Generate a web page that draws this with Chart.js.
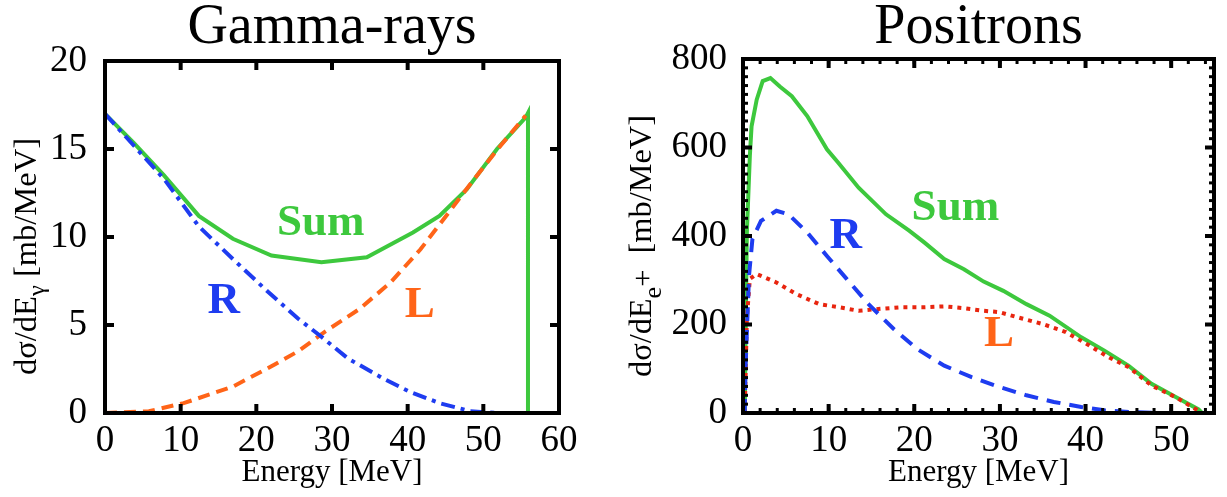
<!DOCTYPE html>
<html>
<head>
<meta charset="utf-8">
<script src="https://cdn.jsdelivr.net/npm/chart.js@4/dist/chart.umd.min.js"></script>
<style>
  html, body { margin: 0; padding: 0; background: #fff; }
  body { width: 1227px; height: 497px; position: relative; overflow: hidden; }
  .box { position: absolute; top: 0; height: 497px; }
</style>
</head>
<body>
<div class="box" style="left:0;width:600px"><canvas id="gamma"></canvas></div>
<div class="box" style="left:610px;width:617px"><canvas id="positron"></canvas></div>
<script>
// ---- Gamma-rays panel (energy in MeV, dsigma/dE in mb/MeV) ----
var gammaSumE = [0, 3.8, 7.8, 12.4, 16.9, 22, 28.6, 34.6, 40.7, 44.2, 47.8, 51.8, 55.6, 55.9, 55.9];
var gammaSum  = [17.0, 15.35, 13.5, 11.2, 9.9, 8.95, 8.57, 8.85, 10.26, 11.2, 12.7, 15.0, 16.8, 17.05, 0];
var gammaRE   = [0, 3.8, 7.8, 12.4, 16.9, 21.5, 25.5, 28.6, 32.1, 36.7, 40.2, 44.2, 48.3, 51.8, 55.9];
var gammaR    = [17.0, 15.2, 13.3, 10.6, 8.75, 6.9, 5.37, 4.33, 3.1, 1.98, 1.22, 0.56, 0.1, 0, 0];
var gammaLE   = [0, 5.8, 10.4, 16.9, 21.5, 25.5, 29, 33.6, 37.7, 41.7, 45.8, 48.8, 52.3, 55.6];
var gammaL    = [0, 0.1, 0.56, 1.5, 2.54, 3.5, 4.6, 5.9, 7.4, 9.3, 11.6, 13.3, 15.2, 16.9];

// ---- Positrons panel ----
var posSumE = [0.2, 0.45, 0.8, 1.0, 1.6, 2.3, 3.2, 4.3, 5.7, 7.5, 9.8, 11.1, 13.5, 16.7, 19.4, 21.2, 23.5, 25.8, 28.1, 30.4, 33.1, 35.8, 39.5, 42.2, 45, 47.7, 50.9, 53.2, 53.6];
var posSum  = [0, 408, 581, 648, 708, 750, 757, 738, 716, 671, 596, 566, 509, 449, 412, 385, 348, 325, 297, 276, 246, 220, 171, 141, 107, 66, 32, 8, 0];
var posRE   = [0.2, 0.3, 0.7, 1.1, 2.1, 3.9, 5.3, 7.5, 9.8, 12.1, 14.8, 17.6, 20.3, 23.5, 26.7, 29.9, 33.1, 36.3, 39.5, 42.2, 45.4, 48.6, 50];
var posR    = [0, 104, 310, 393, 434, 457, 449, 408, 355, 303, 243, 190, 145, 107, 81, 59, 40, 25, 13.5, 6, 2, 0, 0];
var posLE   = [0.2, 0.45, 0.8, 1.6, 3.9, 6.2, 8.9, 11.2, 13.5, 15.8, 18.5, 21.2, 23.5, 25.8, 28.1, 29.9, 32.7, 35, 37.7, 40.4, 42.7, 45, 47.7, 50.5, 53.2, 53.6];
var posL    = [0, 213, 303, 314, 295, 269, 246, 239, 231, 235, 239, 239, 241, 237, 231, 228, 213, 201, 183, 153, 126, 104, 62, 36, 5, 0];

var GREEN = '#3dc83d', BLUE = '#1e3cf0', ORANGE = '#ff6418', RED = '#e8250f';
var SERIF = '"Liberation Serif", "Times New Roman", serif';

function pts(xs, ys) {
  return xs.map(function (x, i) { return { x: x, y: ys[i] }; });
}

// box frame with inward ticks on all four sides
var framePlugin = {
  id: 'frame',
  afterDatasetsDraw(chart, args, o) {
    var ctx = chart.ctx, a = chart.chartArea, sx = chart.scales.x, sy = chart.scales.y;
    function seg(x1, y1, x2, y2) { ctx.beginPath(); ctx.moveTo(x1, y1); ctx.lineTo(x2, y2); ctx.stroke(); }
    function xTick(v, len) { var p = sx.getPixelForValue(v); seg(p, a.bottom, p, a.bottom - len); seg(p, a.top, p, a.top + len); }
    function yTick(v, len) { var p = sy.getPixelForValue(v); seg(a.left, p, a.left + len, p); seg(a.right, p, a.right - len, p); }
    ctx.save();
    ctx.strokeStyle = '#000';
    if (o.xMinor) {
      ctx.lineWidth = 3;
      for (var v = sx.min; v <= sx.max; v += o.xMinor) xTick(v, 5);
      for (var w = sy.min; w <= sy.max; w += o.yMinor) yTick(w, 5);
    }
    ctx.lineWidth = 4;
    sx.ticks.forEach(function (t) { xTick(t.value, 9); });
    sy.ticks.forEach(function (t) { yTick(t.value, 9); });
    ctx.strokeRect(a.left, a.top, a.right - a.left, a.bottom - a.top);
    ctx.restore();
  }
};

// rotated y title with sub/superscripts, squeezed to a given length
var yTitlePlugin = {
  id: 'yTitle',
  afterDraw(chart, args, o) {
    var ctx = chart.ctx;
    ctx.save();
    ctx.translate(o.x, o.y);
    ctx.rotate(-Math.PI / 2);
    ctx.textBaseline = 'middle';
    ctx.textAlign = 'left';
    ctx.fillStyle = '#000';
    var total = 0;
    o.parts.forEach(function (p) {
      ctx.font = p.size + 'px ' + SERIF;
      total += ctx.measureText(p.text).width;
    });
    ctx.scale(o.length / total, 1);
    var cx = 0;
    o.parts.forEach(function (p) {
      ctx.font = p.size + 'px ' + SERIF;
      ctx.fillText(p.text, cx, p.dy || 0);
      cx += ctx.measureText(p.text).width;
    });
    ctx.restore();
  }
};

// Sum / R / L labels placed in data coordinates
var curveLabelPlugin = {
  id: 'curveLabels',
  afterDatasetsDraw(chart, args, o) {
    var ctx = chart.ctx, sx = chart.scales.x, sy = chart.scales.y;
    ctx.save();
    ctx.textAlign = 'center';
    ctx.textBaseline = 'middle';
    ctx.font = 'bold 45px ' + SERIF;
    o.items.forEach(function (l) {
      ctx.fillStyle = l.color;
      ctx.fillText(l.text, sx.getPixelForValue(l.x), sy.getPixelForValue(l.y));
    });
    ctx.restore();
  }
};

function line(data, color, dash) {
  return { data: data, borderColor: color, borderWidth: 4, borderDash: dash, pointRadius: 0, tension: 0, fill: false };
}

function panel(id, cfg) {
  return new Chart(document.getElementById(id), {
    type: 'line',
    data: { datasets: cfg.datasets },
    plugins: [framePlugin, yTitlePlugin, curveLabelPlugin],
    options: {
      responsive: true,
      maintainAspectRatio: false,
      animation: false,
      layout: { padding: { left: 0, right: cfg.padRight, top: 0, bottom: 0 } },
      plugins: {
        legend: { display: false },
        tooltip: { enabled: false },
        title: {
          display: true, text: cfg.title, color: '#000', fullSize: false,
          font: { family: SERIF, size: 56, weight: 'normal', lineHeight: 1 },
          padding: { top: 0, bottom: cfg.titleGap }
        },
        frame: { xMinor: cfg.xMinor, yMinor: cfg.yMinor },
        yTitle: cfg.yTitle,
        curveLabels: { items: cfg.labels }
      },
      scales: {
        x: {
          type: 'linear', min: 0, max: cfg.xMax,
          grid: { display: false, drawTicks: false }, border: { display: false },
          ticks: { stepSize: 10, includeBounds: false, color: '#000', maxRotation: 0, padding: 6,
                   font: { family: SERIF, size: 37 } },
          title: { display: true, text: 'Energy [MeV]', color: '#000',
                   font: { family: SERIF, size: 31, lineHeight: 1 }, padding: { top: 0, bottom: 9 } },
          afterFit: function (s) { s.height = 84; }
        },
        y: {
          min: 0, max: cfg.yMax,
          grid: { display: false, drawTicks: false }, border: { display: false },
          ticks: { stepSize: cfg.yStep, includeBounds: false, color: '#000', padding: cfg.yPad,
                   font: { family: SERIF, size: 37 } },
          afterFit: function (s) { s.width = cfg.yWidth; }
        }
      }
    }
  });
}

Chart.defaults.font.family = SERIF;

panel('gamma', {
  title: 'Gamma-rays', titleGap: 5, padRight: 41, yWidth: 105, yPad: 18,
  xMax: 60, yMax: 20, yStep: 5,
  datasets: [
    line(pts(gammaRE, gammaR), BLUE, [14, 6, 4, 6]),
    line(pts(gammaLE, gammaL), ORANGE, [12, 7]),
    line(pts(gammaSumE, gammaSum), GREEN, [])
  ],
  yTitle: { x: 28, y: 375, length: 237, parts: [
    { text: 'dσ/dE', size: 32 },
    { text: 'γ', size: 24, dy: 10 },
    { text: ' [mb/MeV]', size: 32 }
  ] },
  labels: [
    { text: 'Sum', x: 28.5, y: 10.8, color: GREEN },
    { text: 'R', x: 15.7, y: 6.36, color: BLUE },
    { text: 'L', x: 41.6, y: 6.14, color: ORANGE }
  ]
});

panel('positron', {
  title: 'Positrons', titleGap: 3, padRight: 13, yWidth: 133, yPad: 16,
  xMax: 55, yMax: 800, yStep: 200, xMinor: 2, yMinor: 20,
  datasets: [
    line(pts(posRE, posR), BLUE, [14, 9]),
    line(pts(posLE, posL), RED, [4, 5]),
    line(pts(posSumE, posSum), GREEN, [])
  ],
  yTitle: { x: 33, y: 377, length: 262, parts: [
    { text: 'dσ/dE', size: 32 },
    { text: 'e', size: 26, dy: 11 },
    { text: '+', size: 30, dy: 1 },
    { text: '  [mb/MeV]', size: 32 }
  ] },
  labels: [
    { text: 'Sum', x: 24.8, y: 463, color: GREEN },
    { text: 'R', x: 12.0, y: 400, color: BLUE },
    { text: 'L', x: 29.9, y: 178, color: ORANGE }
  ]
});
</script>
</body>
</html>
